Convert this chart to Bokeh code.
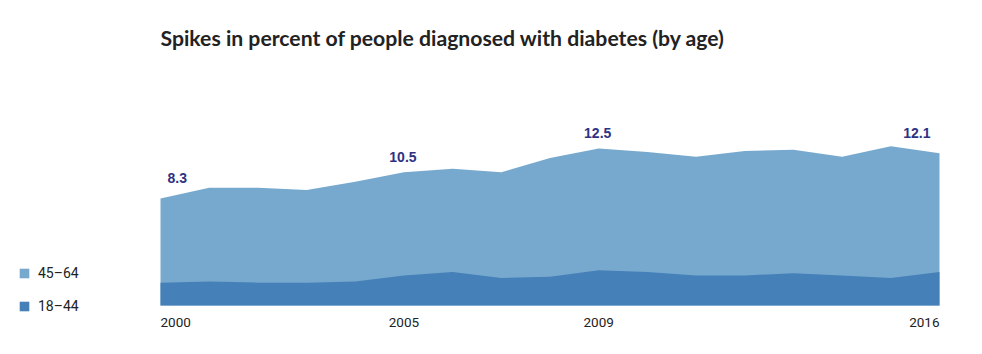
from bokeh.plotting import figure
from bokeh.models import Range1d, Label, Legend, LegendItem, ColumnDataSource
from bokeh.core.properties import value
from bokeh.embed import file_html
from bokeh.resources import INLINE

# ---- data ----
years = list(range(2000, 2017))
age_45_64 = [8.3, 9.2, 9.2, 9.0, 9.7, 10.5, 10.8, 10.5, 11.7, 12.5, 12.2, 11.8, 12.3, 12.4, 11.8, 12.7, 12.1]
age_18_44 = [1.2, 1.3, 1.2, 1.2, 1.3, 1.8, 2.1, 1.6, 1.7, 2.25, 2.1, 1.8, 1.8, 2.0, 1.8, 1.6, 2.1]
series_names = ["45\u201364", "18\u201344"]
label_years = [2000, 2005, 2009, 2016]
tick_years = [2000, 2005, 2009, 2016]
tick_labels = ["2000", "2005", "2009", "2016"]
title_text = "Spikes in percent of people diagnosed with diabetes (by age)"

# ---- layout constants (pixels) ----
W, H = 982, 354
PX_LEFT, PX_RIGHT = 160, 939          # x of first / last year
PX_ZERO, PX_PER_UNIT = 296.4, 11.87    # y (from top) of value 0, px per percent
PX_BASE = 305                          # bottom edge of the areas

px_per_year = (PX_RIGHT - PX_LEFT) / (years[-1] - years[0])
x_start = years[0] - PX_LEFT / px_per_year
x_end = years[-1] + (W - PX_RIGHT) / px_per_year
y_end = PX_ZERO / PX_PER_UNIT
y_start = (PX_ZERO - H) / PX_PER_UNIT
y_base = (PX_ZERO - PX_BASE) / PX_PER_UNIT

LIGHT = "#77a9ce"
DARK = "#4680b8"
NAVY = "#2e3282"
TEXT = "#222222"

p = figure(width=W, height=H, output_backend="svg", toolbar_location=None,
           x_axis_location=None, y_axis_location=None,
           x_range=Range1d(x_start, x_end), y_range=Range1d(y_start, y_end),
           min_border=0)
p.outline_line_color = None
p.xgrid.visible = False
p.ygrid.visible = False
p.background_fill_color = "white"
p.border_fill_color = "white"

src = ColumnDataSource(dict(year=years, a=age_45_64, b=age_18_44,
                            base=[y_base] * len(years)))
r_top = p.varea(x="year", y1="base", y2="a", source=src, fill_color=LIGHT)
r_bot = p.varea(x="year", y1="base", y2="b", source=src, fill_color=DARK)

# value labels on the 45-64 series
lab_vals = [age_45_64[years.index(y)] for y in label_years]
lab_txt = ["%.1f" % v for v in lab_vals]
common = dict(text_font=value("Liberation Sans"), text_font_style="bold",
              text_font_size="14px", text_color=NAVY, text_baseline="alphabetic")
p.text(x=label_years[:1], y=lab_vals[:1], text=lab_txt[:1], text_align="left",
       x_offset=7, y_offset=-20, **common)
p.text(x=label_years[1:-1], y=lab_vals[1:-1], text=lab_txt[1:-1], text_align="center",
       x_offset=-1, y_offset=-15.5, **common)
p.text(x=label_years[-1:], y=lab_vals[-1:], text=lab_txt[-1:], text_align="right",
       x_offset=-9, y_offset=-20, **common)

# x tick labels
tcommon = dict(text_font=value("Roboto"), text_font_size="13.5px", text_color=TEXT,
               text_baseline="alphabetic", y_offset=17)
p.text(x=tick_years[:1], y=[y_base], text=tick_labels[:1], text_align="left", **tcommon)
p.text(x=tick_years[1:-1], y=[y_base] * (len(tick_years) - 2), text=tick_labels[1:-1],
       text_align="center", **tcommon)
p.text(x=tick_years[-1:], y=[y_base], text=tick_labels[-1:], text_align="right", **tcommon)

# title
p.add_layout(Label(x=160, y=H - 50, x_units="screen", y_units="screen", text=title_text,
                   text_font="Lato", text_font_style="bold", text_font_size="21.2px",
                   text_color=TEXT))

# legend
legend = Legend(items=[LegendItem(label=series_names[0], renderers=[r_top]),
                       LegendItem(label=series_names[1], renderers=[r_bot])],
                location=(18, 40), orientation="vertical",
                glyph_width=12, glyph_height=12, label_height=12, spacing=17,
                padding=0, margin=0, border_line_color=None,
                background_fill_alpha=0, label_text_font="Roboto",
                label_text_font_size="14px", label_text_color=TEXT,
                label_standoff=8)
p.add_layout(legend)

open("out.html", "w").write(file_html(p, INLINE))
